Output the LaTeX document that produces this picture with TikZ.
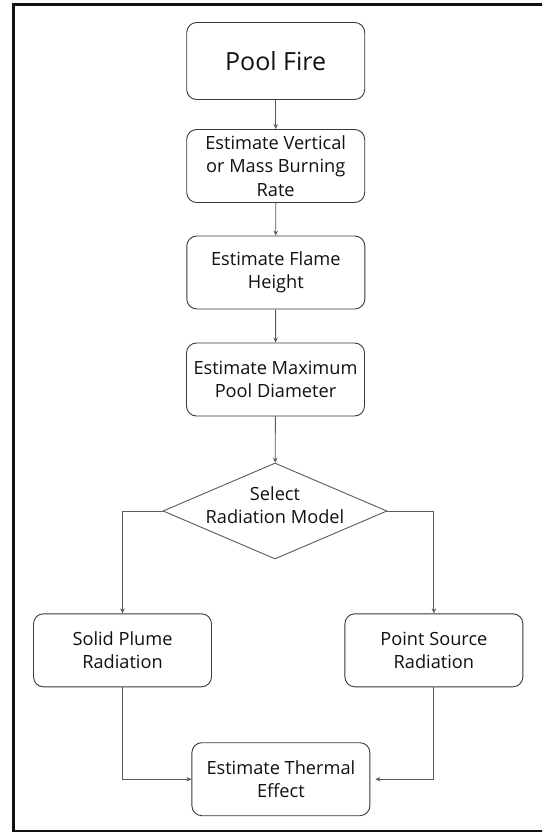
\documentclass[tikz,border=0pt]{standalone}
\usepackage{fontspec}
\setmainfont{Open Sans}
\usetikzlibrary{shapes.geometric,arrows.meta}

\definecolor{boxline}{HTML}{3A3A3A}
\definecolor{linkgray}{HTML}{5A5A5A}
\definecolor{txt}{HTML}{111111}
\definecolor{frame}{HTML}{111111}

\begin{document}
\begin{tikzpicture}[x=1pt,y=-1pt,
  label text/.style={align=center, text=txt, font=\fontsize{18.2}{23.5}\selectfont},
  box/.style={draw=boxline, line width=0.9pt, rounded corners=10pt,
    minimum width=178pt, minimum height=73pt, inner sep=2pt, label text},
  decision/.style={diamond, aspect=2.333, draw=linkgray, line width=0.9pt,
    minimum width=224pt, minimum height=96pt, inner sep=0pt},
  link/.style={draw=linkgray, line width=0.9pt,
    -{Stealth[length=5pt,width=4.5pt]}},
]
\useasboundingbox (0,0) rectangle (542,832);
\clip (0,0) rectangle (542,832);
\fill[white] (0,0) rectangle (542,832);

% outer frame
\draw[frame, line width=3pt] (13.3,5) rectangle (560,831.5);

% main column
\node[box, minimum height=77pt, font=\fontsize{25}{30}\selectfont] (pf) at (275.7,61) {Pool Fire};
\node[box] (vr) at (275.7,166) {Estimate Vertical\\or Mass Burning\\Rate};
\node[box] (fh) at (275.8,272.5) {Estimate Flame\\Height};
\node[box] (pd) at (275.5,379.5) {Estimate Maximum\\Pool Diameter};

% decision diamond, its text sits a little above the centre
\node[decision] (sel) at (275,511) {};
\node[label text] (seltext) at ([yshift=6pt]sel.center) {Select\\Radiation Model};

% branches
\node[box] (sp) at (122.5,650.3) {Solid Plume\\Radiation};
\node[box] (ps) at (433.9,650.3) {Point Source\\Radiation};
\node[box] (th) at (280.9,779.2) {Estimate Thermal\\Effect};

% connectors
\draw[link] (pf) -- (vr);
\draw[link] (vr) -- (fh);
\draw[link] (fh) -- (pd);
\draw[link] (pd) -- (sel);
\draw[link] (sel.west) -| (sp.north);
\draw[link] (sel.east) -| (ps.north);
\draw[link] (sp.south) |- (th.west);
\draw[link, shorten >=5pt] (ps.south) |- (th.east);
\end{tikzpicture}
\end{document}
